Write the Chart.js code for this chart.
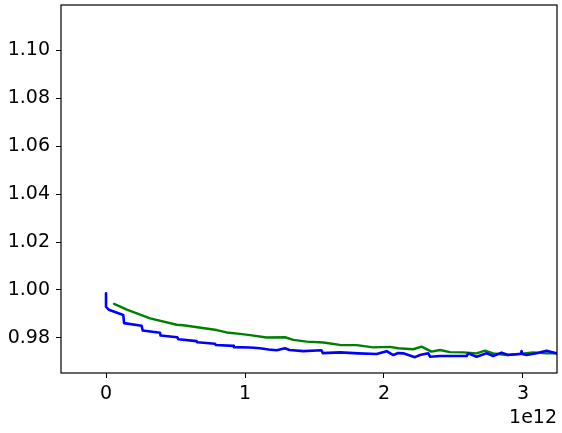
<!DOCTYPE html>
<html>
<head>
<meta charset="utf-8">
<script src="https://cdn.jsdelivr.net/npm/chart.js@4"></script>
<style>
  body { margin: 0; background: #fff; }
  #wrap { width: 562px; height: 433px; }
</style>
</head>
<body>
<div id="wrap"><canvas id="lossChart" width="562" height="433"></canvas></div>
<script>
// x values are in units of 1e12
const blueX = [0, 0, 0.02, 0.124, 0.13, 0.256, 0.264, 0.388, 0.393, 0.513, 0.52, 0.652, 0.657, 0.784, 0.79, 0.916, 0.92, 1.036, 1.108, 1.17, 1.228, 1.288, 1.32, 1.42, 1.55, 1.56, 1.683, 1.815, 1.947, 2.019, 2.067, 2.103, 2.139, 2.223, 2.259, 2.319, 2.331, 2.403, 2.595, 2.607, 2.666, 2.738, 2.786, 2.846, 2.894, 2.985, 2.99, 2.995, 3.026, 3.098, 3.17, 3.24, 3.3];
const blueY = [0.9986, 0.993, 0.9918, 0.9896, 0.9862, 0.9851, 0.9831, 0.9822, 0.9810, 0.9803, 0.9795, 0.9787, 0.9782, 0.9776, 0.9771, 0.9767, 0.9762, 0.9760, 0.9757, 0.9752, 0.9749, 0.9757, 0.9750, 0.9745, 0.9749, 0.9737, 0.9740, 0.9736, 0.9733, 0.9745, 0.9729, 0.9737, 0.9736, 0.9720, 0.9729, 0.9736, 0.9722, 0.9725, 0.9725, 0.9736, 0.9722, 0.9736, 0.9725, 0.9739, 0.9729, 0.9734, 0.9745, 0.9733, 0.9729, 0.9736, 0.9747, 0.9736, 0.9734];

const greenX = [0.058, 0.15, 0.317, 0.508, 0.556, 0.796, 0.868, 0.964, 1.036, 1.156, 1.288, 1.348, 1.444, 1.563, 1.683, 1.804, 1.923, 2.043, 2.103, 2.21, 2.27, 2.342, 2.403, 2.475, 2.57, 2.666, 2.727, 2.786, 2.882, 2.978, 3.074, 3.17, 3.3];
const greenY = [0.9942, 0.9918, 0.9882, 0.9855, 0.9853, 0.9833, 0.9823, 0.9817, 0.9812, 0.9802, 0.9803, 0.9792, 0.9785, 0.9781, 0.9771, 0.9770, 0.9761, 0.9763, 0.9757, 0.9753, 0.9764, 0.9743, 0.9750, 0.9741, 0.9740, 0.9736, 0.9747, 0.9736, 0.9729, 0.9733, 0.9740, 0.9736, 0.9736];

const xTicks = [0, 1, 2, 3];
const xTickLabels = ['0', '1', '2', '3'];
const yTicks = [0.98, 1.00, 1.02, 1.04, 1.06, 1.08, 1.10];
const yTickLabels = ['0.98', '1.00', '1.02', '1.04', '1.06', '1.08', '1.10'];
const xOffsetText = '1e12';

function toPoints(xs, ys) {
    return xs.map((x, i) => ({ x: x, y: ys[i] }));
}

const tickFont = { family: 'DejaVu Sans', size: 19 };

// frame round the plot area and the offset text under the x axis
const framePlugin = {
    id: 'frame',
    afterDraw(chart) {
        const ctx = chart.ctx;
        const a = chart.chartArea;
        ctx.save();
        ctx.strokeStyle = '#000';
        ctx.lineWidth = 1.2;
        ctx.strokeRect(a.left, a.top, a.right - a.left, a.bottom - a.top);
        ctx.fillStyle = '#000';
        ctx.font = '19px "DejaVu Sans"';
        ctx.textAlign = 'right';
        ctx.textBaseline = 'alphabetic';
        ctx.fillText(xOffsetText, a.right, 423);
        ctx.restore();
    }
};

const ctx = document.getElementById('lossChart').getContext('2d');
new Chart(ctx, {
    type: 'line',
    data: {
        datasets: [{
            data: toPoints(blueX, blueY),
            borderColor: '#0000ff',
            borderWidth: 2.6,
            borderJoinStyle: 'round',
            borderCapStyle: 'round',
            pointRadius: 0,
            tension: 0
        }, {
            data: toPoints(greenX, greenY),
            borderColor: '#008000',
            borderWidth: 2.4,
            borderJoinStyle: 'round',
            borderCapStyle: 'round',
            pointRadius: 0,
            tension: 0
        }]
    },
    options: {
        responsive: false,
        animation: false,
        layout: { padding: { top: 5, right: 5, left: 0, bottom: 0 } },
        plugins: {
            legend: { display: false },
            tooltip: { enabled: false }
        },
        scales: {
            x: {
                type: 'linear',
                min: -0.324,
                max: 3.245,
                afterBuildTicks: (scale) => { scale.ticks = xTicks.map(v => ({ value: v })); },
                afterFit: (scale) => {
                    scale.height = 60;
                    scale.paddingLeft = 0;
                    scale.paddingRight = 0;
                },
                ticks: {
                    font: tickFont,
                    color: '#000',
                    padding: 5,
                    maxRotation: 0,
                    callback: (value) => xTickLabels[xTicks.indexOf(value)]
                },
                grid: { drawOnChartArea: false, drawTicks: true, tickLength: 5, color: '#000' },
                border: { display: false }
            },
            y: {
                min: 0.9654,
                max: 1.1188,
                afterBuildTicks: (scale) => { scale.ticks = yTicks.map(v => ({ value: v })); },
                afterFit: (scale) => {
                    scale.width = 61;
                    scale.paddingTop = 0;
                    scale.paddingBottom = 0;
                },
                ticks: {
                    font: tickFont,
                    color: '#000',
                    padding: 6,
                    callback: (value) => {
                        const i = yTicks.findIndex(t => Math.abs(t - value) < 1e-9);
                        return yTickLabels[i];
                    }
                },
                grid: { drawOnChartArea: false, drawTicks: true, tickLength: 5, color: '#000' },
                border: { display: false }
            }
        }
    },
    plugins: [framePlugin]
});
</script>
</body>
</html>
